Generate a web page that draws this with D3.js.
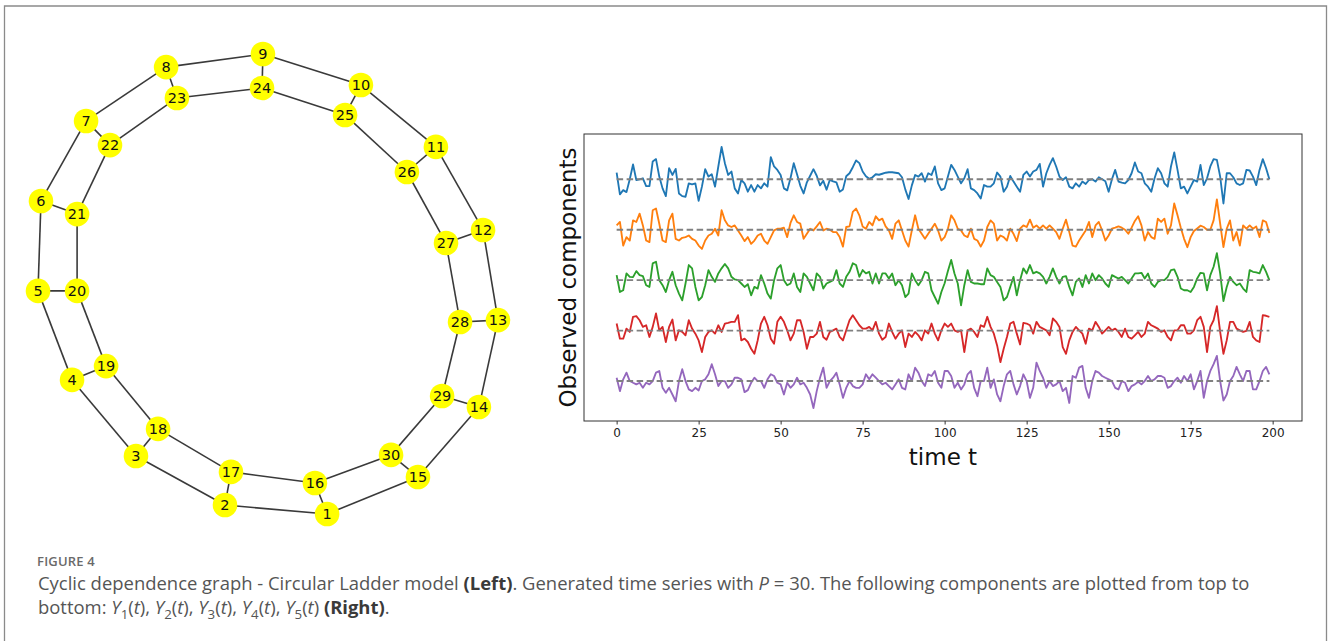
<!DOCTYPE html>
<html><head><meta charset="utf-8">
<script src="https://cdn.jsdelivr.net/npm/d3@7"></script>
<style>html,body{margin:0;padding:0;background:#fff;} svg{display:block}</style>
</head><body><svg id="c" width="1328" height="641"></svg>
<script>
// ---------- graph data (layout positions, networkx-like units) ----------
const nodeLabels = d3.range(1, 31);
const nodeX = [0.257,-0.187,-0.574,-0.852,-1.0,-0.987,-0.791,-0.443,-0.022,0.404,0.730,0.935,1.0,0.917,0.652,
               0.204,-0.161,-0.478,-0.704,-0.830,-0.830,-0.687,-0.396,-0.026,0.335,0.604,0.774,0.835,0.757,0.535];
const nodeY = [-1.0,-0.961,-0.748,-0.417,-0.030,0.361,0.709,0.943,1.0,0.865,0.596,0.235,-0.157,-0.535,-0.839,
               -0.865,-0.817,-0.630,-0.357,-0.030,0.304,0.604,0.809,0.852,0.735,0.487,0.178,-0.165,-0.487,-0.743];
const ringSize = 15;

// ---------- time series data ----------
const tickValues = [0, 25, 50, 75, 100, 125, 150, 175, 200];
const componentOffsets = [0, -5, -10, -15, -20];
const componentColors = ["#1f77b4", "#ff7f0e", "#2ca02c", "#d62728", "#9467bd"];
const Y1 = [0.67,-1.5,-1.07,-1.27,0,1.47,-0.07,0,0.1,-0.67,
-0.67,1.77,2.0,0.27,-0.9,-1.67,1.1,0.43,1.03,-1.4,
-1.67,-1.73,-0.4,-0.5,-0.4,-2.13,-0.73,1.0,0.27,0.5,
-0.73,1.27,3.2,1.6,0.43,0.77,-0.9,-1.4,-0.07,-0.4,
-1.23,-0.57,-1.23,-0.57,-0.9,-0.4,-0.73,2.2,1.27,0.93,
0.43,-0.9,-1.1,0.1,1.6,0.5,-0.65,-1.4,-0.3,0.35,
1.0,0.35,-0.6,-0.15,-1.03,-0.05,-0.2,-0.3,-1.23,-1.0,
0.3,0.6,1.2,1.87,1.6,0.77,0.3,0.05,0.2,0.5,
0.45,0.55,0.65,0.7,0.7,0.65,0.6,0.2,-1.0,-1.95,
-0.6,0.43,0.27,0.6,-0.23,0.6,0.43,1.27,-0.4,-1.07,
-0.9,0.27,1.43,0.93,0.27,-0.4,0.1,1.0,-0.9,-1.07,
-1.4,-1.9,-0.57,-0.73,-0.73,-0.4,0.67,0.27,-1.23,-0.73,
0.33,-0.23,-0.73,-1.23,0.43,0.77,0.27,0.77,0.93,1.53,
-0.73,0.6,1.43,2.1,1.27,0.27,-0.07,0.2,-0.73,-0.9,
-0.4,-0.73,-0.23,-0.47,-0.07,0,-0.23,0.2,0,-0.2,
-1.23,0,0.93,-0.23,-0.33,-0.4,-0.07,0.6,1.67,0.77,
0.6,-0.4,-0.73,-1.23,0.1,1.1,0.6,-0.4,-0.73,1.27,
2.67,0.93,-0.9,-0.73,-1.4,-0.73,-0.07,-0.23,1.43,-0.57,
0.1,1.27,2.0,1.93,0.27,-2.4,0.6,0.6,0.2,-0.4,
-0.57,-0.4,0.93,0.87,0.27,-0.57,0.93,2.0,1.1,0];
const Y2 = [0.43,0.77,-1.57,-0.73,-1.07,0.93,0.77,1.6,0.43,-1.07,
-1.23,1.93,2.1,0.6,-1.07,-1.23,0.93,1.6,-0.9,-1.07,
-0.8,-0.73,-0.57,-0.9,-1.07,-1.57,-1.9,-1.07,-0.57,-0.4,
0.1,-0.57,1.93,0.93,0.43,0.27,0.43,-0.07,-0.57,-1.13,
-0.73,-1.4,-1.07,-0.57,-0.4,-1.07,-1.4,-0.73,-0.07,0.1,
0.1,0.2,-0.73,0.67,1.43,0.77,0.6,-0.9,-0.4,0.1,
-0.07,0.33,0.77,-0.07,0.1,0,-0.23,-0.23,-0.73,-1.67,
0.27,0.33,1.77,2.1,1.43,0.33,0.1,0.77,0.43,1.33,
0.93,1.1,0.33,-0.07,-0.9,0.6,0.93,-0.07,-1.07,-1.67,
-0.07,1.43,0.1,-0.4,-0.9,-0.4,0.1,0.6,-0.07,-1.07,
-0.73,0.1,1.43,0.93,0.1,-0.07,-0.57,-0.73,0.1,-0.9,
-1.07,-1.67,-1.07,0.27,0.93,0.6,-1.07,-0.57,-0.73,-1.07,
0.1,-0.4,-1.13,0.1,0.43,0.27,1.0,0.2,0.43,0.1,
0.43,0.1,0.43,0.1,-0.23,-0.9,0.1,1.0,-0.23,-1.57,
-1.67,-1.07,-0.57,-0.07,0.77,-0.73,0.43,0.77,-0.07,-1.07,
-0.57,0.1,0.2,0.33,0.2,0,-0.4,0.2,0.87,1.33,
0.43,-1.07,-0.23,-0.73,-0.9,1.1,0.77,1.1,-0.4,0.43,
2.6,1.43,0.2,-0.9,-1.73,-0.73,-0.13,0.13,0.4,0.27,
0,0,0.93,3.0,0.6,-1.73,0.1,0.93,-1.07,-0.23,
-1.57,0.43,0.1,0.43,0.1,0.33,-0.73,0.93,0.77,-0.33];
const Y3 = [0.5,-1.17,-1.0,0.67,0.33,0.3,0.9,0.5,0.4,-0.5,
-0.67,1.67,1.83,0,-0.5,-1.17,0,0.83,-0.5,-1.33,
-2.0,-0.33,1.5,1.17,-0.67,-2.0,-1.67,-0.5,1.0,0.33,
-0.17,0.67,1.17,1.6,1.17,0.33,0.07,0,-0.33,-0.67,
-0.4,-1.5,-0.67,-0.83,0.5,-0.33,-1.33,-1.83,0,1.17,
1.5,0,-0.5,-0.33,0.67,-0.67,-1.17,0.67,0.33,-0.33,
-1.0,0.67,0.33,-0.83,-0.33,-0.17,0,1.0,-0.33,-0.67,
0.33,0.83,1.67,1.5,0.33,1.0,0.67,0.83,-0.33,0.67,
-0.33,0.67,0.67,0.17,0.67,-0.5,0,-0.5,-1.67,-1.33,
0.67,0,-0.5,0,0.83,0.67,-1.0,-1.67,-2.33,-1.17,
-0.3,0.9,2.0,0.67,-0.33,-2.5,-0.5,1.0,-0.17,-0.33,
-0.33,-0.4,-0.4,1.17,0.5,0.33,-0.17,-0.67,-2.0,-1.67,
-0.67,0.33,-1.5,0,1.17,0.67,1.5,0.67,0.83,0.67,
0.33,-0.33,0.33,1.17,0.33,-0.33,0.33,0.4,-0.67,-1.5,
-0.17,0.17,-0.67,0.5,-0.33,0.67,0,0.5,0.17,-0.33,
-0.67,0.5,0.33,0.17,0.33,0,-0.33,0.17,0.67,0.67,
0.73,0.17,0.67,-0.33,-0.67,-0.17,0,0,0.33,1.0,
1.07,0.33,-0.83,-1.0,-1.0,-1.17,-0.67,0.17,0.73,0.67,
-1.0,0.5,1.33,2.67,0.67,-2.07,-0.67,0.33,-0.17,-0.5,
-0.33,-0.83,-1.17,1.0,0.83,0.77,0.67,1.5,0.83,0];
const Y4 = [0.7,-0.8,-0.8,0.2,-0.13,1.37,1.43,1.03,0.37,0.53,
-0.63,0.37,1.7,0.03,0.37,-1.13,0.37,1.1,-0.97,0.03,
-0.13,-0.47,1.03,0.2,-0.3,-0.97,-2.13,-0.63,-0.13,0.03,
-0.3,0.53,-0.13,0.7,0.77,0.87,0.87,1.53,-0.97,-0.8,
-1.13,-1.8,-2.3,-0.97,0.7,1.37,0.53,-0.8,-1.3,0.87,
1.37,0.87,0.03,-0.97,-0.3,1.03,1.03,-0.13,-1.8,-0.63,
-0.63,-0.3,0.87,-0.63,-0.9,-0.13,0.03,0.2,-0.63,-0.97,
0.03,1.03,1.53,1.03,0.53,0.2,0.2,0.37,0.03,0.87,
-0.3,-0.9,-0.63,0.7,-0.13,-0.8,-0.3,0.03,-1.63,-0.3,
-0.63,-0.13,-0.47,-0.97,0.03,-0.3,0.7,-0.3,-0.97,0.03,
0.7,0.37,0.7,0.03,-0.13,0.03,-2.13,0.03,0.2,-0.13,
-0.63,0.53,0.37,1.37,0.37,-0.3,-1.47,-3.13,-1.8,-0.63,
0.7,0.87,-0.3,-1.37,0.77,0.7,0.53,-0.3,0.87,0.37,
0.2,0.03,-0.47,1.2,0.87,0.37,-1.63,-2.3,-0.97,-0.13,
0.37,0.03,-0.3,-1.3,0.2,0.03,0.87,0.37,-0.3,0.03,
0.37,0.03,0.2,-0.13,-0.63,0.2,-0.63,-0.8,-0.47,-0.13,
-0.63,-0.3,0.87,0.53,0.37,0.2,-0.13,0.03,-0.63,-0.97,
0.03,0.03,0.53,0.53,-0.3,-0.3,0.03,1.03,1.37,0.37,
-2.13,0.37,1.03,2.43,-0.13,-2.3,-0.97,0.87,0.87,0.2,
0.03,-0.13,-0.03,0.87,-0.63,-0.97,-1.13,1.53,1.47,1.37];
const Y5 = [0.33,-1.0,0.17,0.83,0,-0.17,-0.33,-0.17,-0.67,-0.17,
-0.33,0,0.83,1.0,-0.67,-1.17,-0.67,-1.33,-2.0,0,
1.17,0,-0.83,-1.0,-0.67,-0.93,0,0.17,0.67,1.67,
0.67,-0.5,0,0,-0.67,-0.33,0.33,0.33,0.17,-1.1,
-0.9,-0.17,0.33,0,0,-0.67,0.17,0.67,0.5,-0.17,
-0.33,-1.33,-0.17,-0.67,-0.33,0.33,-0.33,-0.17,-0.67,-1.33,
-2.67,-1.0,0.33,1.33,-0.67,0,0.33,0.83,-0.33,-1.67,
-0.67,0,-0.5,-0.67,-0.67,-0.33,0.67,0.17,0.67,0.33,
0,-0.33,-0.17,-0.5,-0.83,-0.33,0.17,-0.67,-0.83,0.67,
0,1.33,0.83,0,-0.5,0.67,0.5,1.0,-0.17,-0.67,
1.0,1.0,0.5,-0.67,-0.17,-0.83,-0.33,0.67,1.0,-0.67,
-1.5,0,0,1.33,-0.67,0.17,-1.33,-2.0,-0.5,0.67,
1.0,-0.33,-1.33,-0.5,0.67,0,-1.67,-0.67,1.83,1.0,
0.33,-0.67,0,-0.5,-0.33,0,-1.0,-0.67,-2.17,0.5,
0.33,1.33,1.5,-0.67,-1.67,0,1.0,0.83,0.5,0.33,
0.17,0,-0.67,-0.83,0,-0.17,-1.0,-0.5,-0.33,-0.07,
-0.33,0,0.5,0,0.17,0.5,0.5,0.33,-0.67,-0.5,
0,0.33,-0.17,0.5,0,0.67,-0.83,0,1.0,-1.67,
0,1.0,1.67,2.5,0,-1.93,-1.33,0,0.5,1.4,
0.67,0,1.0,1.0,-0.83,-0.83,0,1.0,1.4,0.67];
const components = [Y1, Y2, Y3, Y4, Y5];

// ---------- drawing ----------
const svg = d3.select("#c");
svg.append("rect").attr("width", 1328).attr("height", 641).attr("fill", "#fff");
svg.append("path").attr("d", "M4.5,641 V6 H1326.5 V641")
   .attr("fill", "none").attr("stroke", "#8a8a8a").attr("stroke-width", 1.3);

// graph
const gx = d3.scaleLinear().domain([-1, 1]).range([38, 498]);
const gy = d3.scaleLinear().domain([-1, 1]).range([514, 54]);
const edges = [];
for (let i = 0; i < ringSize; i++) {
  edges.push([i, (i + 1) % ringSize]);
  edges.push([ringSize + i, ringSize + (i + 1) % ringSize]);
  edges.push([i, ringSize + i]);
}
const gG = svg.append("g");
gG.selectAll("line.e").data(edges).join("line").attr("class", "e")
  .attr("x1", d => gx(nodeX[d[0]])).attr("y1", d => gy(nodeY[d[0]]))
  .attr("x2", d => gx(nodeX[d[1]])).attr("y2", d => gy(nodeY[d[1]]))
  .attr("stroke", "#3a3a3a").attr("stroke-width", 1.6);
const nodes = nodeLabels.map((l, i) => ({l, x: nodeX[i], y: nodeY[i]}));
gG.selectAll("circle").data(nodes).join("circle")
  .attr("cx", d => gx(d.x)).attr("cy", d => gy(d.y)).attr("r", 12.3)
  .attr("fill", "#ffff00");
gG.selectAll("text").data(nodes).join("text")
  .attr("x", d => gx(d.x)).attr("y", d => gy(d.y)).attr("dy", "0.36em")
  .attr("text-anchor", "middle").attr("font-family", "DejaVu Sans")
  .attr("font-size", 14.5).attr("fill", "#111").text(d => d.l);

// time series
const x = d3.scaleLinear().domain([-9.95, 208.95]).range([584, 1302]);
const y = d3.scaleLinear().domain([-23.96, 4.49]).range([421, 134]);
const tG = svg.append("g");
components.forEach((s, k) => {
  const line = d3.line().x((d, i) => x(i)).y(d => y(d + componentOffsets[k]));
  tG.append("path").datum(s).attr("d", line).attr("fill", "none")
    .attr("stroke", componentColors[k]).attr("stroke-width", 1.85)
    .attr("stroke-linejoin", "round");
  tG.append("line").attr("x1", x(0)).attr("x2", x(s.length - 1))
    .attr("y1", y(componentOffsets[k])).attr("y2", y(componentOffsets[k]))
    .attr("stroke", "#808080").attr("stroke-width", 1.9)
    .attr("stroke-dasharray", "6.5,3.5");
});
tG.append("rect").attr("x", x.range()[0]).attr("y", y.range()[1])
  .attr("width", x.range()[1] - x.range()[0]).attr("height", y.range()[0] - y.range()[1])
  .attr("fill", "none").attr("stroke", "#333").attr("stroke-width", 1);
const ax = tG.append("g").attr("transform", `translate(0,${y.range()[0]})`)
  .call(d3.axisBottom(x).tickValues(tickValues).tickSize(3.5).tickPadding(4).tickFormat(d3.format("d")));
ax.select(".domain").remove();
ax.selectAll("line").attr("stroke", "#333");
ax.selectAll("text").attr("font-family", "DejaVu Sans").attr("font-size", 12).attr("fill", "#222");
tG.append("text").attr("transform", `translate(576,${(y.range()[0] + y.range()[1]) / 2}) rotate(-90)`)
  .attr("text-anchor", "middle").attr("font-family", "DejaVu Sans").attr("font-size", 23)
  .attr("fill", "#111").text("Observed components");
tG.append("text").attr("x", (x.range()[0] + x.range()[1]) / 2).attr("y", 465)
  .attr("text-anchor", "middle").attr("font-family", "DejaVu Sans").attr("font-size", 23)
  .attr("fill", "#111").text("time t");

// caption
const capFont = "'Open Sans', sans-serif";
svg.append("text").attr("x", 37).attr("y", 566).attr("font-family", capFont)
  .attr("font-size", 13).attr("font-weight", 600).attr("letter-spacing", 0.2)
  .attr("fill", "#6a6a6a").text("FIGURE 4");
const line1 = [{t:"Cyclic dependence graph - Circular Ladder model "},{t:"(Left)",b:1},
  {t:". Generated time series with "},{t:"P",i:1},{t:" = 30. The following components are plotted from top to"}];
const line2 = [{t:"bottom: "}];
[1,2,3,4,5].forEach((n, j) => {
  line2.push({t:"Y",i:1},{t:String(n),sub:1},{t:"("},{t:"t",i:1},{t:j < 4 ? "), " : ") "});
});
line2.push({t:"(Right)",b:1},{t:"."});
function buildLine(segs, yPos, fs) {
  const t = svg.append("text").attr("x", 38).attr("y", yPos).attr("font-family", capFont)
    .attr("font-size", fs).attr("fill", "#555");
  let shifted = false;
  segs.forEach(s => {
    const sp = t.append("tspan").text(s.t);
    if (s.b) sp.attr("font-weight", 700).attr("fill", "#3a3a3a");
    if (s.i) sp.attr("font-style", "italic");
    if (s.sub) { sp.attr("font-size", fs * 0.72).attr("dy", fs * 0.28); shifted = true; }
    else if (shifted) { sp.attr("dy", -fs * 0.28); shifted = false; }
  });
  return t;
}
const probe = buildLine(line1, 590, 16);
const w = probe.node().getComputedTextLength();
probe.remove();
const fs = 16 * 1212 / w;
buildLine(line1, 590, fs);
buildLine(line2, 614, fs);
</script></body></html>
